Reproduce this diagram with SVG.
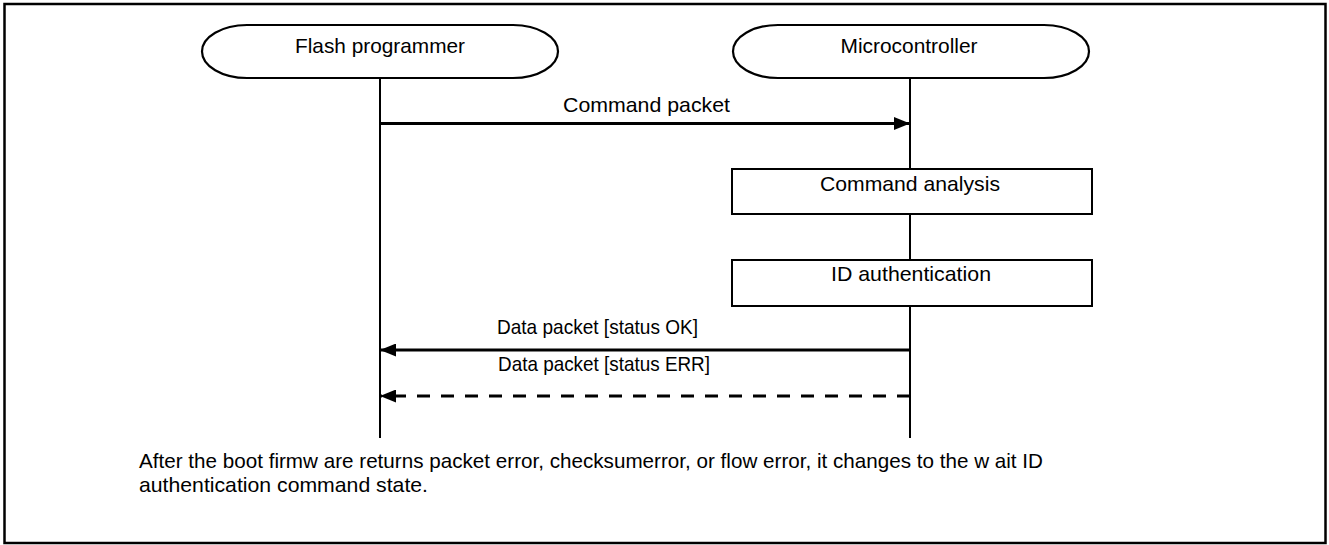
<svg xmlns="http://www.w3.org/2000/svg" width="1329" height="545" viewBox="0 0 1329 545">
  <style>
    .frame { fill: #fff; stroke: #000; stroke-width: 2.5; }
    .actor { fill: #fff; stroke: #000; stroke-width: 2.2; }
    .step { fill: #fff; stroke: #000; stroke-width: 2; }
    .life { stroke: #000; stroke-width: 2; fill: none; }
    .msg { stroke: #000; stroke-width: 3; fill: none; }
    .dash { stroke-dasharray: 13 11; }
    text { font-family: "Liberation Sans", Arial, sans-serif; font-size: 21px; fill: #000; }
    .mid { text-anchor: middle; }
  </style>
  <defs>
    <marker id="head" viewBox="0 0 16 13" refX="16" refY="6.5" markerWidth="16" markerHeight="13" markerUnits="userSpaceOnUse" orient="auto">
      <path d="M0,0 L16,6.5 L0,13 Z" fill="#000"/>
    </marker>
  </defs>

  <rect class="frame" x="4.5" y="4" width="1321" height="539"/>

  <!-- lifelines -->
  <g id="lifelines">
    <line class="life" x1="380" y1="78" x2="380" y2="438"/>
    <line class="life" x1="910" y1="78" x2="910" y2="438"/>
  </g>

  <g id="flash-programmer">
    <rect class="actor" x="202" y="25" width="356" height="53" rx="45" ry="26.5"/>
    <text class="mid" x="380" y="52.5" textLength="170" lengthAdjust="spacingAndGlyphs">Flash programmer</text>
  </g>

  <g id="microcontroller">
    <rect class="actor" x="733" y="25" width="356" height="53" rx="45" ry="26.5"/>
    <text class="mid" x="909" y="52.5" textLength="137" lengthAdjust="spacingAndGlyphs">Microcontroller</text>
  </g>

  <g id="command-analysis">
    <rect class="step" x="732" y="169" width="360" height="45"/>
    <text class="mid" x="910" y="190.5" textLength="180" lengthAdjust="spacingAndGlyphs">Command  analysis</text>
  </g>

  <g id="id-authentication">
    <rect class="step" x="732" y="260" width="360" height="46"/>
    <text class="mid" x="911" y="281" textLength="160" lengthAdjust="spacingAndGlyphs">ID authentication</text>
  </g>

  <g id="connectors">
    <line class="msg" x1="380" y1="123.5" x2="910" y2="123.5" marker-end="url(#head)"/>
    <text x="563" y="112" textLength="167" lengthAdjust="spacingAndGlyphs">Command  packet</text>

    <line class="msg" x1="910" y1="350" x2="380" y2="350" marker-end="url(#head)"/>
    <text x="497" y="333.5" textLength="201" lengthAdjust="spacingAndGlyphs">Data  packet [status OK]</text>

    <line class="msg dash" x1="910" y1="396" x2="380" y2="396" marker-end="url(#head)"/>
    <text x="498" y="370.5" textLength="212" lengthAdjust="spacingAndGlyphs">Data  packet [status ERR]</text>
  </g>

  <g id="note">
    <text x="139" y="467.5" textLength="904" lengthAdjust="spacingAndGlyphs">After the boot firmw are returns packet error, checksumerror, or flow error, it changes to the w ait ID</text>
    <text x="139" y="491.5" textLength="289" lengthAdjust="spacingAndGlyphs">authentication command  state.</text>
  </g>
</svg>
